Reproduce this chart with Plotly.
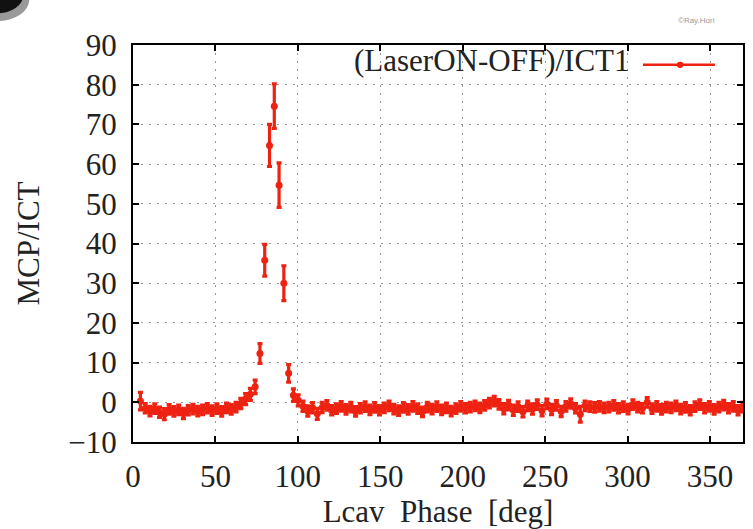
import numpy as np
import plotly.graph_objects as go

# Lcav phase scan: laser ON minus OFF signal normalised by ICT1
phase_start = 4.5
phase_step = 2.9
signal = [
    0.3, -1.5, -2.2, -1.6, -2.5, -3.0, -1.8, -2.3, -1.9, -2.8,
    -2.0, -1.7, -2.2, -1.9, -1.5, -2.1, -1.6, -2.3, -1.4, -1.8,
    -1.2, -0.3, 0.8, 2.0, 3.9, 12.3, 35.8, 64.7, 74.6, 54.7,
    30.0, 7.3, 1.8, 0.5, -1.0, -2.2, -1.4, -2.9, -1.3, -0.8,
    -2.0, -1.6, -1.0, -1.8, -1.2, -2.3, -1.5, -1.1, -1.9, -1.3,
    -2.0, -1.4, -0.9, -1.7, -2.1, -1.3, -1.8, -1.0, -1.6, -2.4,
    -1.2, -1.7, -1.1, -1.9, -1.4, -2.2, -1.6, -1.0, -1.5, -1.2,
    -0.9, -1.4, -0.8, -0.2, 0.3, -0.5, -1.6, -0.7, -2.0, -1.1,
    -2.4, -0.9, -1.7, -0.6, -2.1, -0.4, -1.8, -0.8, -2.3, -1.0,
    -0.3, -1.5, -3.0, -0.9, -1.1, -1.3, -1.0, -1.4, -1.2, -0.8,
    -1.5, -1.1, -1.7, -0.6, -1.2, -1.5, 0.0, -1.6, -1.0, -1.8,
    -1.2, -1.4, -0.9, -1.7, -1.3, -2.0, -1.1, -0.6, -1.5, -1.0,
    -1.8, -1.2, -0.7, -1.5, -1.0, -2.0, -1.2,
]
signal_err = [
    2.2, 1.2, 1.2, 1.2, 1.3, 1.4, 1.2, 1.2, 1.2, 1.3,
    1.2, 1.2, 1.2, 1.2, 1.2, 1.2, 1.2, 1.2, 1.2, 1.2,
    1.2, 1.3, 1.4, 1.5, 1.7, 2.5, 4.0, 5.3, 5.6, 5.6,
    4.4, 2.2, 1.6, 1.4, 1.3, 1.3, 1.3, 1.4, 1.3, 1.2,
    1.2, 1.2, 1.2, 1.2, 1.2, 1.2, 1.2, 1.2, 1.2, 1.2,
    1.2, 1.2, 1.2, 1.2, 1.2, 1.2, 1.2, 1.2, 1.2, 1.2,
    1.2, 1.2, 1.2, 1.2, 1.2, 1.2, 1.2, 1.2, 1.2, 1.2,
    1.2, 1.2, 1.2, 1.2, 1.2, 1.2, 1.3, 1.2, 1.3, 1.2,
    1.3, 1.2, 1.3, 1.2, 1.3, 1.2, 1.3, 1.2, 1.3, 1.2,
    1.2, 1.2, 2.0, 1.2, 1.2, 1.2, 1.2, 1.2, 1.2, 1.2,
    1.2, 1.2, 1.2, 1.2, 1.2, 1.2, 1.2, 1.2, 1.2, 1.2,
    1.2, 1.2, 1.2, 1.2, 1.2, 1.2, 1.2, 1.2, 1.2, 1.2,
    1.2, 1.2, 1.2, 1.2, 1.2, 1.2, 1.2,
]
phase = phase_start + phase_step * np.arange(len(signal))

x_ticks = [0, 50, 100, 150, 200, 250, 300, 350]
y_ticks = [-10, 0, 10, 20, 30, 40, 50, 60, 70, 80, 90]
legend_label = "(LaserON-OFF)/ICT1"

RED = "#ee2211"
FONT = "Liberation Serif"

fig = go.Figure()
fig.add_trace(go.Scatter(
    x=phase, y=signal, mode="markers",
    marker=dict(color=RED, size=7, symbol="circle"),
    error_y=dict(type="data", array=signal_err, visible=True,
                 color=RED, thickness=3.2, width=2.5),
    showlegend=False,
))

axis_common = dict(
    showline=True, linecolor="black", linewidth=2, mirror="allticks",
    ticks="inside", ticklen=6, tickwidth=1.5, tickcolor="black",
    showgrid=True, gridcolor="#9a9a9a", gridwidth=1, griddash="2px,6px",
    zeroline=False, tickfont=dict(family=FONT, size=31, color="#222"),
)
fig.update_xaxes(range=[0, 370], tickvals=x_ticks, ticklabelstandoff=6,
                 title=dict(text="Lcav\u00a0\u00a0Phase\u00a0\u00a0[deg]",
                            font=dict(family=FONT, size=31, color="#222"),
                            standoff=14),
                 **axis_common)
fig.update_yaxes(range=[-10, 90], tickvals=y_ticks, ticklabelstandoff=8,
                 title=dict(text="MCP/ICT",
                            font=dict(family=FONT, size=31, color="#222"),
                            standoff=19),
                 **axis_common)

# key drawn gnuplot-style: label on the left, sample on the right
fig.add_annotation(x=0.818, y=0.960, xref="paper", yref="paper",
                   text=legend_label, showarrow=False, xanchor="right",
                   yanchor="middle",
                   font=dict(family=FONT, size=31, color="#222"))
fig.add_shape(type="line", xref="paper", yref="paper",
              x0=0.836, x1=0.954, y0=0.950, y1=0.950,
              line=dict(color=RED, width=2.5))
fig.add_shape(type="circle", xref="paper", yref="paper",
              x0=0.892, x1=0.902, y0=0.943, y1=0.957,
              fillcolor=RED, line=dict(color=RED, width=1))

# watermark and corner logo
fig.add_annotation(x=0.957, y=1.078, xref="paper", yref="paper",
                   text="©Ray.Hori", showarrow=False,
                   font=dict(family="Liberation Sans", size=8, color="#999"))
fig.add_shape(type="circle", xref="paper", yref="paper",
              x0=-0.275, x1=-0.170, y0=1.06, y1=1.17,
              fillcolor="#555", line=dict(width=0), opacity=0.6)
fig.add_shape(type="circle", xref="paper", yref="paper",
              x0=-0.265, x1=-0.180, y0=1.08, y1=1.17,
              fillcolor="#111", line=dict(width=0))

fig.update_layout(
    width=753, height=529,
    margin=dict(l=133, r=10, t=45, b=87, autoexpand=False),
    paper_bgcolor="white", plot_bgcolor="white",
    font=dict(family=FONT),
)

fig.write_html("out.html")
